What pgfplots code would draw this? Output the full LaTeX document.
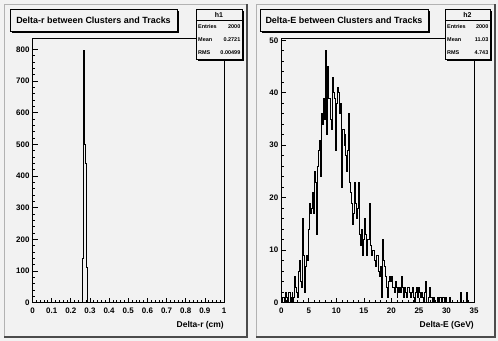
\documentclass[border=0pt]{standalone}
\usepackage{fontspec}
\setmainfont{Liberation Sans}
\usepackage{pgfplots}
\usepackage{pgfplotstable}
\pgfplotsset{compat=1.18}
\definecolor{bg}{RGB}{242,242,242}

% Delta-r histogram: 200 bins of 0.005 on [0,1] (bin lower edge, content)
\pgfplotstableread[row sep=\\]{
x y\\
0 0\\ 0.26 140\\ 0.265 795\\ 0.27 500\\ 0.275 440\\ 0.28 110\\ 0.285 0\\ 1 0\\
}\tabR

% Delta-E histogram: 200 bins of 0.175 on [0,35] (bin lower edge, content)
\pgfplotstableread[row sep=\\]{
x y\\
0 0\\ 0.175 1\\ 0.35 1\\ 0.525 0\\ 0.7 2\\ 0.875 1\\ 1.05 0\\ 1.225 2\\ 1.4 2\\ 1.575 0\\
1.75 1\\ 1.925 2\\ 2.1 0\\ 2.275 1\\ 2.45 5\\ 2.625 3\\ 2.8 2\\ 2.975 1\\ 3.15 6\\ 3.325 8\\
3.5 4\\ 3.675 3\\ 3.85 16\\ 4.025 9\\ 4.2 2\\ 4.375 7\\ 4.55 9\\ 4.725 8\\ 4.9 14\\ 5.075 19\\
5.25 17\\ 5.425 18\\ 5.6 21\\ 5.775 17\\ 5.95 25\\ 6.125 23\\ 6.3 13\\ 6.475 26\\ 6.65 29\\ 6.825 29\\
7 31\\ 7.175 24\\ 7.35 36\\ 7.525 34\\ 7.7 39\\ 7.875 35\\ 8.05 48\\ 8.225 32\\ 8.4 45\\ 8.575 39\\
8.75 39\\ 8.925 35\\ 9.1 33\\ 9.275 43\\ 9.45 40\\ 9.625 39\\ 9.8 29\\ 9.975 38\\ 10.15 41\\ 10.325 40\\
10.5 36\\ 10.675 38\\ 10.85 22\\ 11.025 33\\ 11.2 33\\ 11.375 30\\ 11.55 32\\ 11.725 28\\ 11.9 25\\ 12.075 29\\
12.25 36\\ 12.425 23\\ 12.6 21\\ 12.775 19\\ 12.95 15\\ 13.125 17\\ 13.3 23\\ 13.475 19\\ 13.65 16\\ 13.825 18\\
14 23\\ 14.175 13\\ 14.35 11\\ 14.525 14\\ 14.7 9\\ 14.875 12\\ 15.05 16\\ 15.225 13\\ 15.4 9\\ 15.575 12\\
15.75 12\\ 15.925 19\\ 16.1 11\\ 16.275 10\\ 16.45 9\\ 16.625 10\\ 16.8 10\\ 16.975 8\\ 17.15 7\\ 17.325 9\\
17.5 9\\ 17.675 6\\ 17.85 5\\ 18.025 7\\ 18.2 1\\ 18.375 12\\ 18.55 8\\ 18.725 7\\ 18.9 5\\ 19.075 3\\
19.25 1\\ 19.425 4\\ 19.6 5\\ 19.775 4\\ 19.95 5\\ 20.125 3\\ 20.3 3\\ 20.475 2\\ 20.65 4\\ 20.825 3\\
21 1\\ 21.175 3\\ 21.35 2\\ 21.525 3\\ 21.7 2\\ 21.875 5\\ 22.05 3\\ 22.225 1\\ 22.4 3\\ 22.575 2\\
22.75 1\\ 22.925 3\\ 23.1 3\\ 23.275 2\\ 23.45 1\\ 23.625 2\\ 23.8 3\\ 23.975 1\\ 24.15 0\\ 24.325 2\\
24.5 3\\ 24.675 1\\ 24.85 3\\ 25.025 2\\ 25.2 1\\ 25.375 2\\ 25.55 1\\ 25.725 0\\ 25.9 1\\ 26.075 2\\
26.25 4\\ 26.425 0\\ 26.6 0\\ 26.775 1\\ 26.95 3\\ 27.125 1\\ 27.3 1\\ 27.475 0\\ 27.65 1\\ 27.825 0\\
28 0\\ 28.175 0\\ 28.35 1\\ 28.525 0\\ 28.7 1\\ 28.875 1\\ 29.05 0\\ 29.225 1\\ 29.4 1\\ 29.575 0\\
29.75 1\\ 29.925 0\\ 30.1 0\\ 30.275 0\\ 30.45 1\\ 30.625 0\\ 30.8 0\\ 30.975 0\\ 31.15 0\\ 31.325 0\\
31.5 0\\ 31.675 0\\ 31.85 0\\ 32.025 0\\ 32.2 0\\ 32.375 0\\ 32.55 2\\ 32.725 0\\ 32.9 0\\ 33.075 0\\
33.25 0\\ 33.425 0\\ 33.6 2\\ 33.775 0\\ 33.95 0\\ 34.125 0\\ 34.3 0\\ 34.475 0\\ 34.65 0\\ 34.825 0\\
35 0\\
}\tabE

\pgfplotsset{rootaxis/.style={
  scale only axis, anchor=south west,
  axis background/.style={fill=bg},
  tick align=inside, tick pos=left,
  major tick length=5bp, minor tick length=2.7bp,
  every tick/.style={black, line width=0.7bp},
  axis line style={line width=0.8bp},
  /pgf/number format/assume math mode=true,
  tick label style={font=\fontsize{8}{9}\selectfont\bfseries},
  xticklabel style={yshift=-1.5bp},
  yticklabel style={xshift=0.5bp},
  label style={font=\fontsize{8.5}{10}\selectfont\bfseries},
  xlabel style={at={(axis description cs:1,0)}, anchor=base east, yshift=-24.5bp, inner sep=0pt},
  ymin=0,
}}

\newcommand{\pave}[4]{%
  \fill[black] (#1+1.6,341-#4-1.6) rectangle (#3+1.6,341-#2-1.6);
  \filldraw[fill=bg, draw=black, line width=0.7bp] (#1,341-#4) rectangle (#3,341-#2);
}

\begin{document}
\begin{tikzpicture}
\begin{scope}[x=1bp,y=1bp]
  \fill[bg] (0,0) rectangle (498,341);
  % pads
  \draw[gray!60, line width=0.5bp] (4,4) rectangle (247,337);
  \draw[gray!60!black, line width=1.5bp] (4,4) -- (247,4) -- (247,337);
  \draw[gray!60, line width=0.5bp] (256,4) rectangle (495,337);
  \draw[gray!60!black, line width=1.5bp] (256,4) -- (495,4) -- (495,337);
\end{scope}

\begin{axis}[rootaxis,
  at={(32.5bp,38.3bp)}, width=191.5bp, height=264.5bp,
  xmin=0, xmax=1, ymax=835,
  xtick={0,0.1,0.2,0.3,0.4,0.5,0.6,0.7,0.8,0.9,1},
  xticklabels={0,0.1,0.2,0.3,0.4,0.5,0.6,0.7,0.8,0.9,1},
  ytick={0,100,200,300,400,500,600,700,800},
  minor x tick num=4, minor y tick num=4,
  xlabel={Delta-r (cm)},
]
\addplot[const plot mark left, black, line width=0.8bp] table[x=x,y=y] {\tabR};
\end{axis}

\begin{axis}[rootaxis,
  at={(281.3bp,38.3bp)}, width=192.7bp, height=264.5bp,
  xmin=0, xmax=35, ymax=50.4,
  xtick={0,5,10,15,20,25,30,35},
  ytick={0,10,20,30,40,50},
  minor x tick num=4, minor y tick num=4,
  xlabel={Delta-E (GeV)},
]
\addplot[const plot mark left, black, line width=0.8bp] table[x=x,y=y] {\tabE};
\end{axis}

\begin{scope}[x=1bp,y=1bp]
  % titles
  \pave{10}{9}{177}{31}
  \node[font=\fontsize{9}{10}\selectfont\bfseries] at (93.5,341-20) {Delta-r between Clusters and Tracks};
  \pave{260}{9}{428}{31}
  \node[font=\fontsize{9}{10}\selectfont\bfseries] at (344,341-20) {Delta-E between Clusters and Tracks};
  % stats boxes
  \pave{196}{9}{242}{59}
  \draw[line width=0.6bp] (196,341-20.7) -- (242,341-20.7);
  \node[font=\fontsize{7}{8}\selectfont\bfseries] at (219,341-14.5) {h1};
  \begin{scope}[every node/.style={font=\fontsize{5.5}{6}\selectfont\bfseries, inner sep=0pt}]
    \node[anchor=west] at (198,341-26.5) {Entries};
    \node[anchor=east] at (240.5,341-26.5) {2000};
    \node[anchor=west] at (198,341-39.5) {Mean};
    \node[anchor=east] at (240.5,341-39.5) {0.2721};
    \node[anchor=west] at (198,341-52.5) {RMS};
    \node[anchor=east] at (240.5,341-52.5) {0.00499};
  \end{scope}
  \pave{445}{9}{490}{59}
  \draw[line width=0.6bp] (445,341-20.7) -- (490,341-20.7);
  \node[font=\fontsize{7}{8}\selectfont\bfseries] at (467.5,341-14.5) {h2};
  \begin{scope}[every node/.style={font=\fontsize{5.5}{6}\selectfont\bfseries, inner sep=0pt}]
    \node[anchor=west] at (447,341-26.5) {Entries};
    \node[anchor=east] at (488.5,341-26.5) {2000};
    \node[anchor=west] at (447,341-39.5) {Mean};
    \node[anchor=east] at (488.5,341-39.5) {11.03};
    \node[anchor=west] at (447,341-52.5) {RMS};
    \node[anchor=east] at (488.5,341-52.5) {4.743};
  \end{scope}
\end{scope}
\pgfresetboundingbox
\path[use as bounding box] (0,0) rectangle (498bp,341bp);
\end{tikzpicture}
\end{document}
